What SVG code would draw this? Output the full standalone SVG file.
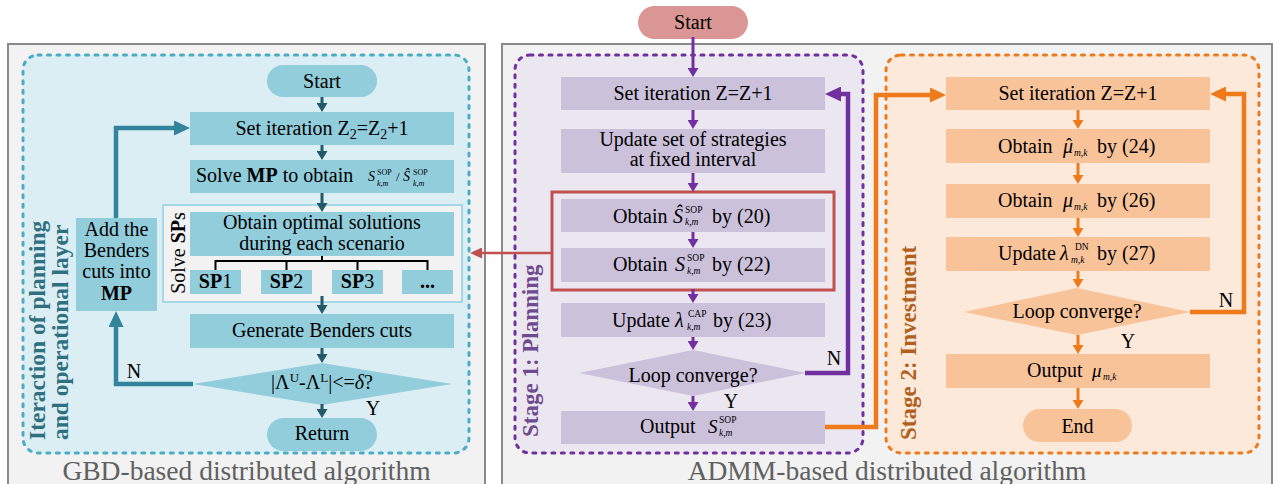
<svg xmlns="http://www.w3.org/2000/svg" width="1278" height="484" viewBox="0 0 1278 484">
<defs>
<style>
svg{font-family:"Liberation Serif","Times New Roman",serif;font-size:20px}
text{fill:#000}
.m{text-anchor:middle}
.i{font-style:italic}
.b{font-weight:bold}
.s{font-size:9.5px}
.panel{fill:#f2f2f2;stroke:#8a8a8a;stroke-width:2}
.lbl{font-size:27.5px;fill:#606060;text-anchor:middle}
.dash{stroke-width:3;stroke-dasharray:3 6.5;stroke-linecap:round}
.gb{fill:#dbeef4;stroke:#4bacc6}
.pb{fill:#ebe7f0;stroke:#7030a0}
.ob{fill:#fde9d9;stroke:#ee7a1c}
.bl{fill:#92cddc}
.pu{fill:#ccc1da}
.or{fill:#f9c39a}
.ct{stroke:#215968;stroke-width:3;fill:none}
.cT{stroke:#31849b;stroke-width:4.5;fill:none}
.cp{stroke:#7030a0;stroke-width:3;fill:none}
.cP{stroke:#7030a0;stroke-width:4.5;fill:none}
.co{stroke:#ee7a1c;stroke-width:3;fill:none}
.cO{stroke:#ee7a1c;stroke-width:4.5;fill:none}
.cr{stroke:#c0504d;stroke-width:2.5;fill:none}
</style>
<marker id="aT" markerUnits="userSpaceOnUse" markerWidth="10" markerHeight="11" refX="1" refY="5.5" orient="auto"><path d="M0,0 L9,5.5 L0,11z" fill="#215968"/></marker>
<marker id="aP" markerUnits="userSpaceOnUse" markerWidth="10" markerHeight="11" refX="1" refY="5.5" orient="auto"><path d="M0,0 L9,5.5 L0,11z" fill="#7030a0"/></marker>
<marker id="aO" markerUnits="userSpaceOnUse" markerWidth="10" markerHeight="11" refX="1" refY="5.5" orient="auto"><path d="M0,0 L9,5.5 L0,11z" fill="#ee7a1c"/></marker>
<marker id="AT" markerUnits="userSpaceOnUse" markerWidth="17" markerHeight="15" refX="1" refY="7.5" orient="auto"><path d="M0,0 L16,7.5 L0,15z" fill="#31849b"/></marker>
<marker id="AP" markerUnits="userSpaceOnUse" markerWidth="17" markerHeight="15" refX="1" refY="7.5" orient="auto"><path d="M0,0 L16,7.5 L0,15z" fill="#7030a0"/></marker>
<marker id="AO" markerUnits="userSpaceOnUse" markerWidth="17" markerHeight="15" refX="1" refY="7.5" orient="auto"><path d="M0,0 L16,7.5 L0,15z" fill="#ee7a1c"/></marker>
<marker id="AR" markerUnits="userSpaceOnUse" markerWidth="13" markerHeight="11" refX="1" refY="5.5" orient="auto"><path d="M0,0 L12,5.5 L0,11z" fill="#c0504d"/></marker>
</defs>

<!-- panels -->
<g id="panel-gbd">
<rect class="panel" x="8" y="44" width="477" height="452"/>
<rect class="dash gb" x="23" y="55" width="446" height="398" rx="15"/>
<text class="lbl" x="246.5" y="480">GBD-based distributed algorithm</text>
<text class="b" style="fill:#2e6f80;font-size:23.5px" transform="translate(45,440) rotate(-90)">Iteraction of planning</text>
<text class="b" style="fill:#2e6f80;font-size:23.5px" transform="translate(68,440) rotate(-90)">and operational layer</text>
</g>
<g id="panel-admm">
<rect class="panel" x="502" y="44" width="770" height="452"/>
<rect class="dash pb" x="515" y="55" width="348" height="398" rx="15"/>
<rect class="dash ob" x="886" y="55" width="373" height="398" rx="15"/>
<text class="lbl" x="887" y="480">ADMM-based distributed algorithm</text>
<text class="b" style="fill:#6f4a8e;font-size:23px" transform="translate(538,437) rotate(-90)">Stage 1: Planning</text>
<text class="b" style="fill:#b0601c;font-size:23px" transform="translate(916,440) rotate(-90)">Stage 2: Investment</text>
</g>

<!-- left nodes -->
<g id="l-start"><rect class="bl" x="267" y="65" width="110" height="32" rx="16"/><text class="m" x="322" y="88">Start</text></g>
<g id="l-set"><rect class="bl" x="190" y="112" width="264" height="33"/><text class="m" x="322" y="135">Set iteration Z<tspan dy="4" font-size="14">2</tspan><tspan dy="-4">=Z</tspan><tspan dy="4" font-size="14">2</tspan><tspan dy="-4">+1</tspan></text></g>
<g id="l-mp"><rect class="bl" x="190" y="160" width="264" height="33"/>
<text y="182"><tspan x="196">Solve </tspan><tspan class="b">MP</tspan><tspan> to obtain</tspan></text>
<text class="i" x="368" y="181" font-size="14">S</text><text x="377" y="175" font-size="8">SOP</text><text class="i" x="377" y="186" font-size="8">k,m</text>
<text x="396" y="181" font-size="13">/</text>
<text class="i" x="403" y="181" font-size="14">Ŝ</text><text x="413" y="175" font-size="8">SOP</text><text class="i" x="413" y="186" font-size="8">k,m</text>
</g>
<g id="l-sps">
<rect x="163" y="205" width="299" height="97" fill="#f2f2f2" stroke="#a5d8e4" stroke-width="2"/>
<text class="m" transform="translate(185,253) rotate(-90)">Solve <tspan class="b">SP</tspan>s</text>
<rect class="bl" x="190" y="212" width="264" height="44"/>
<text class="m" x="322" y="228.5">Obtain optimal solutions</text>
<text class="m" x="322" y="249.5">during each scenario</text>
<path d="M322,256 V261 M215.5,270 V261 H427.5 V270 M286.5,261 V270 M357.5,261 V270" stroke="#000" stroke-width="2" fill="none"/>
<rect class="bl" x="190" y="270" width="51" height="24"/><text class="m" x="215.5" y="288"><tspan class="b">SP</tspan>1</text>
<rect class="bl" x="261" y="270" width="51" height="24"/><text class="m" x="286.5" y="288"><tspan class="b">SP</tspan>2</text>
<rect class="bl" x="332" y="270" width="51" height="24"/><text class="m" x="357.5" y="288"><tspan class="b">SP</tspan>3</text>
<rect class="bl" x="402" y="270" width="51" height="24"/><text class="m b" x="427.5" y="288">...</text>
</g>
<g id="l-gen"><rect class="bl" x="190" y="314" width="264" height="34"/><text class="m" x="322" y="337">Generate Benders cuts</text></g>
<g id="l-dec"><polygon class="bl" points="193,384 322,363 452,384 322,405"/><text class="m" x="322" y="389">|Λ<tspan dy="-7" font-size="13">U</tspan><tspan dy="7">-Λ</tspan><tspan dy="-7" font-size="13">L</tspan><tspan dy="7">|&lt;=</tspan><tspan class="i">δ</tspan>?</text></g>
<g id="l-return"><rect class="bl" x="267" y="418" width="110" height="33" rx="16.5"/><text class="m" x="322" y="440">Return</text></g>
<g id="l-add"><rect class="bl" x="76" y="218" width="81" height="93"/>
<text class="m" x="116.5" y="236">Add the</text><text class="m" x="116.5" y="257">Benders</text><text class="m" x="116.5" y="278">cuts into</text><text class="m b" x="116.5" y="300">MP</text></g>

<!-- middle nodes -->
<g id="m-start"><rect x="638" y="6" width="110" height="33" rx="16.5" fill="#da9694"/><text class="m" x="693" y="29">Start</text></g>
<g id="m-set"><rect class="pu" x="561" y="77" width="264" height="33"/><text class="m" x="693" y="100">Set iteration Z=Z+1</text></g>
<g id="m-upd"><rect class="pu" x="561" y="129" width="264" height="44"/><text class="m" x="693" y="146">Update set of strategies</text><text class="m" x="693" y="166">at fixed interval</text></g>
<g id="m-frame"><rect x="552" y="192" width="282" height="98" fill="none" stroke="#c0504d" stroke-width="3"/></g>
<g id="m-20"><rect class="pu" x="561" y="199" width="264" height="33"/>
<text x="613" y="222.5">Obtain</text><text class="i" x="673" y="222.5">Ŝ</text><text class="s" x="685" y="212.5">SOP</text><text class="s i" x="685" y="225">k,m</text><text x="712" y="222.5">by (20)</text></g>
<g id="m-22"><rect class="pu" x="561" y="248" width="264" height="34"/>
<text x="613" y="271">Obtain</text><text class="i" x="675" y="271">S</text><text class="s" x="687" y="261">SOP</text><text class="s i" x="687" y="273.5">k,m</text><text x="712" y="271">by (22)</text></g>
<g id="m-23"><rect class="pu" x="561" y="303" width="264" height="34"/>
<text x="612" y="327">Update</text><text class="i" x="675" y="327">λ</text><text class="s" x="688" y="317">CAP</text><text class="s i" x="687" y="329.5">k,m</text><text x="713" y="327">by (23)</text></g>
<g id="m-dec"><polygon class="pu" points="579,373 693,350 806,373 693,396"/><text class="m" x="693" y="381.5">Loop converge?</text></g>
<g id="m-out"><rect class="pu" x="561" y="411" width="264" height="33"/>
<text x="640" y="433">Output</text><text class="i" x="708" y="433" font-size="19">S</text><text class="s" x="719" y="423">SOP</text><text class="s i" x="719" y="436">k,m</text></g>

<!-- right nodes -->
<g id="r-set"><rect class="or" x="946" y="77" width="264" height="33"/><text class="m" x="1078" y="100">Set iteration Z=Z+1</text></g>
<g id="r-24"><rect class="or" x="946" y="129" width="264" height="34"/>
<text x="998" y="152.5">Obtain</text><text class="i" x="1063" y="152.5">μ<tspan x="1066" y="151" font-size="18" font-style="normal">ˆ</tspan><tspan x="1074" y="155.5" font-size="9.5">m,k</tspan></text><text x="1097" y="152.5">by (24)</text></g>
<g id="r-26"><rect class="or" x="946" y="184" width="264" height="34"/>
<text x="998" y="207">Obtain</text><text class="i" x="1063" y="207">μ</text><text class="s i" x="1074" y="210">m,k</text><text x="1097" y="207">by (26)</text></g>
<g id="r-27"><rect class="or" x="946" y="237" width="264" height="34"/>
<text x="998" y="260">Update</text><text class="i" x="1060" y="260">λ</text><text class="s" x="1075" y="250">DN</text><text class="s i" x="1071" y="263">m,k</text><text x="1097" y="260">by (27)</text></g>
<g id="r-dec"><polygon class="or" points="964,312 1077,288 1190,312 1077,335"/><text class="m" x="1077" y="318">Loop converge?</text></g>
<g id="r-out"><rect class="or" x="946" y="354" width="264" height="34"/>
<text x="1027" y="377">Output</text><text class="i" x="1092" y="377" font-size="19">μ</text><text class="s i" x="1103" y="380">m,k</text></g>
<g id="r-end"><rect class="or" x="1023" y="409" width="109" height="33" rx="16.5"/><text class="m" x="1077.5" y="433">End</text></g>

<!-- connectors -->
<g id="connectors">
<line class="ct" x1="322" y1="97" x2="322" y2="104" marker-end="url(#aT)"/>
<line class="ct" x1="322" y1="145" x2="322" y2="152" marker-end="url(#aT)"/>
<line class="ct" x1="322" y1="193" x2="322" y2="204" marker-end="url(#aT)"/>
<line class="ct" x1="322" y1="296" x2="322" y2="306" marker-end="url(#aT)"/>
<line class="ct" x1="322" y1="348" x2="322" y2="355" marker-end="url(#aT)"/>
<line class="ct" x1="322" y1="404" x2="322" y2="410" marker-end="url(#aT)"/>
<path class="cT" d="M193,384 H116 V326" marker-end="url(#AT)"/>
<path class="cT" d="M116,218 V128 H175" marker-end="url(#AT)"/>
<text class="m" x="134" y="378">N</text>
<text class="m" x="373" y="415">Y</text>

<line class="cp" x1="693" y1="37" x2="693" y2="69" marker-end="url(#aP)"/>
<line class="cp" x1="693" y1="110" x2="693" y2="121" marker-end="url(#aP)"/>
<line class="cp" x1="693" y1="173" x2="693" y2="184" marker-end="url(#aP)"/>
<line class="cp" x1="693" y1="232" x2="693" y2="240" marker-end="url(#aP)"/>
<line class="cp" x1="693" y1="289" x2="693" y2="295" marker-end="url(#aP)"/>
<line class="cp" x1="693" y1="337" x2="693" y2="342" marker-end="url(#aP)"/>
<line class="cp" x1="693" y1="396" x2="693" y2="403" marker-end="url(#aP)"/>
<path class="cP" d="M805,373 H848 V94 H840" marker-end="url(#AP)"/>
<text class="m" x="834" y="365">N</text>
<text class="m" x="731" y="408">Y</text>

<path class="cr" d="M552,253 H481" marker-end="url(#AR)"/>

<path class="cO" d="M825,427 H876 V95 H931" marker-end="url(#AO)"/>

<line class="co" x1="1078" y1="110" x2="1078" y2="121" marker-end="url(#aO)"/>
<line class="co" x1="1078" y1="163" x2="1078" y2="176" marker-end="url(#aO)"/>
<line class="co" x1="1078" y1="218" x2="1078" y2="229" marker-end="url(#aO)"/>
<line class="co" x1="1078" y1="271" x2="1078" y2="280" marker-end="url(#aO)"/>
<line class="co" x1="1078" y1="335" x2="1078" y2="346" marker-end="url(#aO)"/>
<line class="co" x1="1078" y1="388" x2="1078" y2="401" marker-end="url(#aO)"/>
<path class="cO" d="M1190,312 H1244 V94 H1225" marker-end="url(#AO)"/>
<text class="m" x="1226" y="307">N</text>
<text class="m" x="1128" y="348">Y</text>
</g>
</svg>
